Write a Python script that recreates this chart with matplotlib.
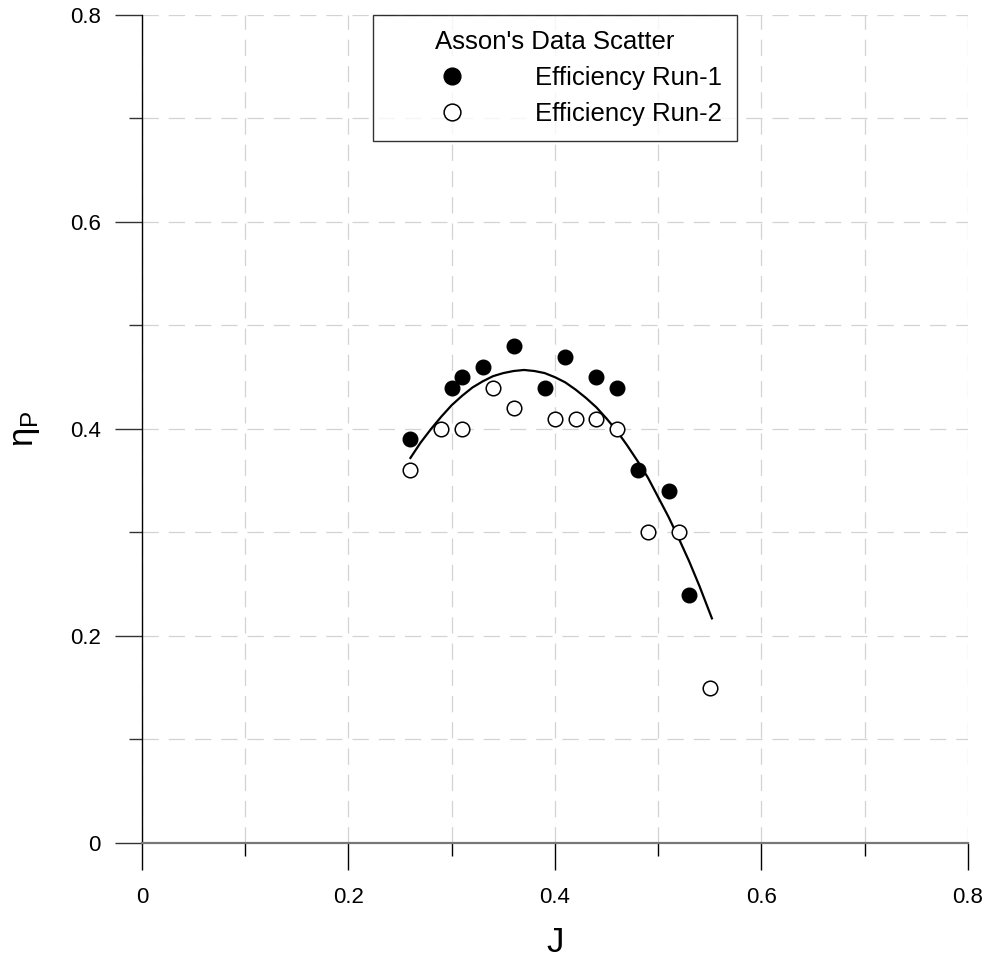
import matplotlib
matplotlib.use("Agg")
import matplotlib.pyplot as plt
from matplotlib.ticker import MultipleLocator

plt.rcParams['font.family'] = ['Liberation Sans', 'DejaVu Sans']
plt.rcParams['mathtext.fontset'] = 'custom'
plt.rcParams['mathtext.rm'] = 'Liberation Sans'
plt.rcParams['mathtext.it'] = 'Liberation Sans'

# Run-1 (filled markers)
j_run1 = [0.26, 0.30, 0.31, 0.33, 0.36, 0.39, 0.41, 0.44, 0.46, 0.48, 0.51, 0.53]
eta_run1 = [0.39, 0.44, 0.45, 0.46, 0.48, 0.44, 0.47, 0.45, 0.44, 0.36, 0.34, 0.24]

# Run-2 (open markers)
j_run2 = [0.26, 0.29, 0.31, 0.34, 0.36, 0.40, 0.42, 0.44, 0.46, 0.49, 0.52, 0.55]
eta_run2 = [0.36, 0.40, 0.40, 0.44, 0.42, 0.41, 0.41, 0.41, 0.40, 0.30, 0.30, 0.15]

# fitted curve
j_fit = [0.26, 0.27, 0.28, 0.29, 0.30, 0.31, 0.32, 0.33, 0.34, 0.35, 0.36, 0.37,
         0.38, 0.39, 0.40, 0.41, 0.42, 0.43, 0.44, 0.45, 0.46, 0.47, 0.48, 0.49,
         0.50, 0.51, 0.52, 0.53, 0.54, 0.552]
eta_fit = [0.372, 0.387, 0.400, 0.412, 0.423, 0.432, 0.440, 0.446, 0.451, 0.454,
           0.456, 0.457, 0.456, 0.454, 0.450, 0.445, 0.438, 0.430, 0.421, 0.410,
           0.398, 0.384, 0.369, 0.353, 0.334, 0.315, 0.294, 0.272, 0.248, 0.217]

tick_vals = [0, 0.2, 0.4, 0.6, 0.8]
tick_labels = ['0', '0.2', '0.4', '0.6', '0.8']

fig = plt.figure(figsize=(9.92, 9.59), dpi=100)
ax = fig.add_axes([0.1431, 0.121, 0.8327, 0.8634])

grid_style = dict(color='#d3d3d3', linestyle=(0, (13, 8)), linewidth=0.9)
ax.grid(True, which='both', **grid_style)
ax.set_axisbelow(True)

ax.plot(j_fit, eta_fit, color='black', linewidth=1.6, zorder=3)
ax.plot(j_run1, eta_run1, 'o', color='black', markersize=10.5,
        label='Efficiency Run-1', zorder=4)
ax.plot(j_run2, eta_run2, 'o', markerfacecolor='white', markeredgecolor='black',
        markeredgewidth=1.1, markersize=10.5, label='Efficiency Run-2', zorder=4)

ax.set_xlim(0, 0.8)
ax.set_ylim(0, 0.8)
ax.set_xticks(tick_vals, tick_labels)
ax.set_yticks(tick_vals, tick_labels)
ax.xaxis.set_minor_locator(MultipleLocator(0.1))
ax.yaxis.set_minor_locator(MultipleLocator(0.1))

for s in ['top', 'right']:
    ax.spines[s].set_visible(False)
ax.spines['bottom'].set_color('#777777')
ax.spines['bottom'].set_linewidth(1.6)
ax.spines['left'].set_color('black')
ax.spines['left'].set_linewidth(1.0)

ax.tick_params(axis='x', which='major', length=19.5, width=1, color='black',
               pad=12, labelsize=16)
ax.tick_params(axis='x', which='minor', length=9.5, width=1, color='black')
ax.tick_params(axis='y', which='major', length=19.5, width=1, color='#333333',
               pad=10, labelsize=16)
ax.tick_params(axis='y', which='minor', length=9.5, width=1, color='#333333')

ax.set_xlabel('J', fontsize=25, labelpad=13)
ax.set_ylabel(r'$\mathrm{\eta_P}$', fontsize=25, labelpad=20)

leg = ax.legend(title="Asson's Data Scatter", loc='upper center',
                bbox_to_anchor=(0.5, 1.0), borderaxespad=0, fontsize=18.5,
                title_fontsize=18.5, frameon=True, fancybox=False,
                edgecolor='black', handlelength=5.0, handletextpad=0.7,
                labelspacing=0.45, borderpad=0.6, markerscale=1.15)
leg.get_frame().set_linewidth(1.0)
leg.set_zorder(5)

fig.savefig('out.png', dpi=100)
